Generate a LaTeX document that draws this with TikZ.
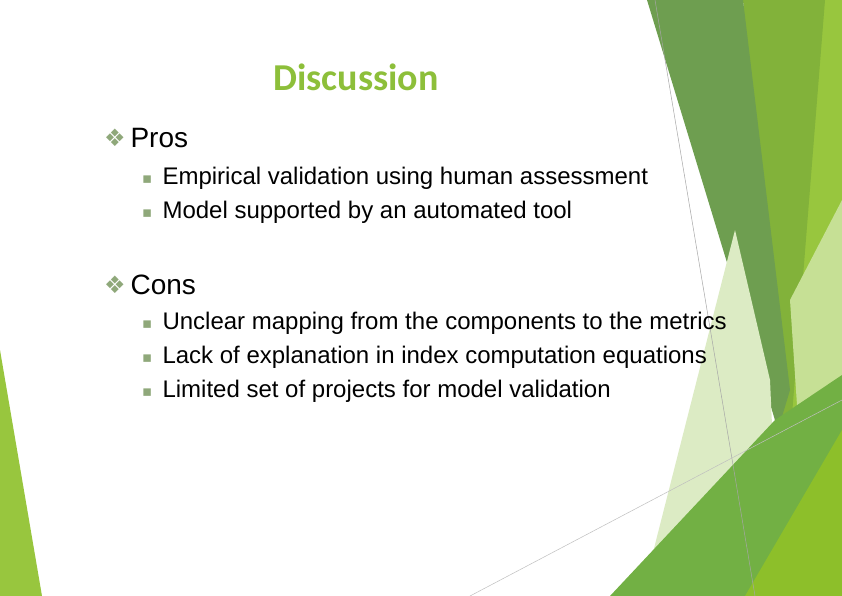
\documentclass[tikz,border=0pt]{standalone}
\usepackage{fontspec}
\setmainfont{Liberation Sans}
\newfontfamily\titlefont{Carlito}
\newfontfamily\symfont{DejaVu Sans}
\definecolor{ttl}{HTML}{8DBF3A}
\definecolor{bul}{HTML}{8FA87A}
\definecolor{dk}{HTML}{6E9E50}
\definecolor{ol}{HTML}{82B23A}
\definecolor{lg}{HTML}{98C63E}
\definecolor{pale}{HTML}{DCEBC4}
\definecolor{md}{HTML}{72B044}
\definecolor{yg}{HTML}{8DBF2A}
\tikzset{lvone/.style={anchor=base west,font=\fontsize{28}{32}\selectfont},
lvtwo/.style={anchor=base west,font=\fontsize{24}{28}\selectfont},
dia/.style={anchor=base west,text=bul,font=\symfont\fontsize{24}{26}\selectfont,inner sep=0pt},
sq/.style={anchor=base west,text=bul,font=\symfont\fontsize{15}{16}\selectfont,inner sep=0pt}}
\begin{document}
\begin{tikzpicture}[x=1pt,y=-1pt]
\useasboundingbox (0,0) rectangle (842,596);
\fill[white] (0,0) rectangle (842,596);
% decorations
\fill[lg] (820,0) -- (842,0) -- (842,596) -- (760,596) -- (780,420) -- cycle;
\fill[ol] (743,0) -- (825,0) -- (790,440) -- (775,420) -- cycle;
\fill[dk] (647,0) -- (743,0) -- (790,390) -- (778,430) -- cycle;
\fill[pale] (735,230) -- (770,380) -- (772,425) -- (700,500) -- (648,572) -- cycle;
\fill[lg!55!white] (790,300) -- (842,200) -- (842,420) -- (800,450) -- cycle;
\fill[md] (610,596) -- (775,420) -- (842,375) -- (842,596) -- cycle;
\fill[yg] (745,596) -- (842,430) -- (842,596) -- cycle;
\draw[gray!70,line width=0.5pt] (655,0) -- (755,596);
\draw[gray!50,line width=0.5pt] (470,596) -- (842,400);
\fill[lg] (0,350) -- (42,596) -- (0,596) -- cycle;
% text
\node[anchor=base,text=ttl,font=\titlefont\bfseries\fontsize{38}{42}\selectfont] (title) at (356,91) {Discussion};
\node[dia] (b1) at (104,147) {❖};
\node[lvone] (pros) at (127,148) {Pros};
\node[sq] (s1) at (142,183) {▪};
\node[lvtwo] (p1) at (159,184) {Empirical validation using human assessment};
\node[sq] (s2) at (142,217) {▪};
\node[lvtwo] (p2) at (159,218) {Model supported by an automated tool};
\node[dia] (b2) at (104,293) {❖};
\node[lvone] (cons) at (127,294) {Cons};
\node[sq] (s3) at (142,328) {▪};
\node[lvtwo] (c1) at (159,329) {Unclear mapping from the components to the metrics};
\node[sq] (s4) at (142,362) {▪};
\node[lvtwo] (c2) at (159,363) {Lack of explanation in index computation equations};
\node[sq] (s5) at (142,396) {▪};
\node[lvtwo] (c3) at (159,397) {Limited set of projects for model validation};
\end{tikzpicture}
\end{document}
